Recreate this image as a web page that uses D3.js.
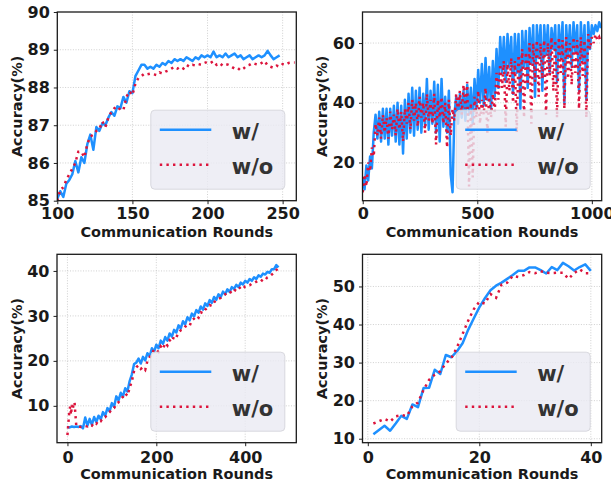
<!DOCTYPE html>
<html><head><meta charset="utf-8">
<script src="https://cdn.jsdelivr.net/npm/d3@7"></script>
<style>body{margin:0;background:#fff}svg{display:block}</style>
</head><body>
<svg id="chart" width="611" height="483"></svg>
<script>
// ---------- Panel 1 (top-left) ----------
const p1BlueX = d3.range(100, 250, 2);
const p1Blue = [85.05,85.25,85.1,85.45,85.55,85.7,86.05,85.75,86.15,86.0,86.5,86.75,86.35,86.95,86.85,87.05,87.0,87.2,87.35,87.25,87.5,87.45,87.75,87.6,87.9,87.85,88.3,88.45,88.6,88.6,88.5,88.55,88.5,88.6,88.55,88.65,88.6,88.7,88.65,88.75,88.7,88.75,88.7,88.8,88.75,88.7,88.8,88.75,88.85,88.8,88.85,88.8,88.95,88.8,88.85,88.8,88.9,88.8,88.85,88.9,88.8,88.85,88.75,88.8,88.85,88.75,88.8,88.85,88.8,88.85,88.97,88.85,88.75,88.8,88.85];
const p1RedX = d3.range(100, 260, 2);
const p1Red = [85.0,85.3,85.35,85.55,85.7,85.85,86.0,86.3,86.3,86.15,86.5,86.7,86.75,86.85,86.9,87.1,86.95,87.2,87.35,87.45,87.5,87.4,87.4,87.75,87.9,87.8,88.1,88.25,88.3,88.37,88.35,88.37,88.35,88.33,88.4,88.37,88.42,88.45,88.5,88.55,88.5,88.55,88.5,88.6,88.55,88.6,88.58,88.62,88.6,88.65,88.68,88.65,88.7,88.6,88.65,88.58,88.62,88.6,88.55,88.5,88.52,88.45,88.5,88.58,88.6,88.65,88.62,88.6,88.65,88.7,88.58,88.55,88.52,88.58,88.55,88.62,88.6,88.65,88.66,88.66];
const p1XTicks = [100,150,200,250];
const p1YTicks = [85,86,87,88,89,90];

// ---------- Panel 2 (top-right) ----------
const p2X = d3.range(0, 1041, 8);
const p2Blue = [15,11,19,14,22,18,30,36,28,37,27,38,28,38,26,38,29,39,27,40,26,39,23,41,28,43,30,45,29,44,31,45,30,43,32,48,31,44,33,47,30,46,27,48,32,42,30,44,16,10,36,42,33,43,35,44,34,46,36,45,33,48,38,51,40,53,39,55,41,52,38,54,42,58,45,62,50,62,47,63,52,62,43,63,50,63,38,64,52,64,45,65,53,66,42,66,55,66,44,66,56,66,50,65,58,66,47,66,55,67,40,66,55,66,52,67,57,66,44,67,54,66,41,67,58,66,63,66,64,67,65];
const p2Red = [10,16,12,20,17,25,22,33,29,35,28,36,30,35,28,37,31,36,29,38,31,37,27,38,33,40,31,41,34,40,32,42,35,40,30,43,34,41,33,43,26,41,35,42,33,40,25,41,29,38,34,43,37,44,36,46,38,47,12,40,15,42,35,44,33,41,36,45,30,42,35,43,37,50,41,53,45,54,32,53,44,55,40,54,30,56,43,58,35,57,46,60,33,60,47,61,42,60,48,61,36,60,49,62,44,61,35,62,50,61,38,62,48,60,46,62,50,61,38,62,49,61,35,63,58,62,60,63,61,62,60];
const p2XTicks = [0,500,1000];
const p2YTicks = [20,40,60];

// ---------- Panel 3 (bottom-left) ----------
const p3BlueX = d3.range(0, 476, 5);
const p3Blue = [5.3,5.2,5.4,5.3,5.4,5.3,5.5,5.0,7.4,5.6,7.1,5.8,7.5,6.4,7.8,7.0,8.6,7.8,9.5,8.8,10.6,9.8,12.1,11.2,12.9,12.1,13.9,13.2,15.5,17.0,19.3,19.6,20.5,19.4,20.9,20.1,21.7,21.0,22.8,22.0,23.6,22.8,24.5,23.8,25.3,24.5,26.1,25.4,26.9,26.3,27.9,27.2,28.8,28.1,29.7,29.0,30.5,29.9,31.3,30.7,32.1,31.4,32.8,32.2,33.5,32.9,34.2,33.6,34.8,34.2,35.4,34.8,35.9,35.3,36.4,36.0,36.9,36.4,37.4,37.0,37.8,37.4,38.2,37.8,38.6,38.2,39.0,38.7,39.4,39.2,39.8,39.6,40.4,40.4,41.3,40.8];
const p3RedX = [0,2,4,6,8,10,12,14,16,18].concat(d3.range(20, 476, 5));
const p3Red = [3.5,6,8.5,9.8,8.0,10.2,9.2,10.6,10.8,8,5.4,5.4,5.3,5.4,5.5,5.4,5.8,5.6,6.3,6.0,6.8,6.6,7.4,7.5,8.2,8.6,9.3,9.5,10.5,10.8,11.6,12.0,12.8,12.2,14.0,15.5,17.8,18.6,19.0,18.2,18.6,18.0,20.0,20.8,21.5,22.6,22.4,22.0,23.2,22.6,24.0,23.4,24.6,24.2,25.5,25.2,26.4,26.8,27.0,27.6,28.0,27.8,29.0,29.4,30.0,29.6,30.8,30.6,31.4,31.8,32.4,32.2,33.0,33.5,33.8,34.0,34.4,34.8,35.2,35.0,35.6,35.3,36.2,36.0,36.4,36.0,36.6,36.8,36.8,37.2,37.3,37.6,37.8,37.6,38.2,38.0,38.6,38.8,39.2,39.6,40.2,40.6];
const p3XTicks = [0,200,400];
const p3YTicks = [10,20,30,40];

// ---------- Panel 4 (bottom-right) ----------
const p4X = d3.range(1, 41);
const p4Blue = [11.2,12.3,13.4,12.1,14.0,16.0,15.2,19.0,18.3,23.3,23.4,28.1,27.0,32.0,31.4,33.0,35.1,38.6,41.6,44.5,46.9,49.0,50.2,51.0,52.0,53.0,54.1,54.1,55.0,55.0,54.3,53.4,55.1,54.3,56.2,55.3,54.2,55.1,55.8,54.1];
const p4Red = [14.0,14.6,15.2,14.5,15.9,16.2,16.0,18.5,19.5,22.8,25.5,26.8,27.7,29.8,31.2,34.0,37.5,41.0,44.0,46.0,45.5,48.0,47.0,50.5,51.0,52.8,52.5,53.0,53.8,53.5,54.0,53.6,53.5,53.6,53.6,52.0,53.5,54.5,53.5,53.5];
const p4XTicks = [0,20,40];
const p4YTicks = [10,20,30,40,50];

const seriesNames = ["w/", "w/o"];
const BLUE = "#1E90FF", RED = "#DC143C";
const FONT = "'DejaVu Sans', sans-serif";

const svg = d3.select("#chart");

function panel(id, box, xDom, yDom, xTicks, yTicks, blue, red, ylabX, xPad) {
  const x = d3.scaleLinear().domain(xDom).range([box.l, box.r]);
  const y = d3.scaleLinear().domain(yDom).range([box.b, box.t]);
  const g = svg.append("g");
  g.append("rect").attr("x", box.l).attr("y", box.t).attr("width", box.r - box.l).attr("height", box.b - box.t).attr("fill", "#fff");
  // grid
  g.selectAll(".gx").data(xTicks.filter(v => x(v) > box.l + 0.5 && x(v) < box.r - 0.5)).join("line")
    .attr("x1", d => x(d)).attr("x2", d => x(d)).attr("y1", box.t).attr("y2", box.b)
    .attr("stroke", "#c4c4c4").attr("stroke-width", 0.8).attr("stroke-dasharray", "1,1.6");
  g.selectAll(".gy").data(yTicks.filter(v => y(v) > box.t + 0.5 && y(v) < box.b - 0.5)).join("line")
    .attr("x1", box.l).attr("x2", box.r).attr("y1", d => y(d)).attr("y2", d => y(d))
    .attr("stroke", "#c4c4c4").attr("stroke-width", 0.8).attr("stroke-dasharray", "1,1.6");
  // clip
  svg.append("clipPath").attr("id", "clip" + id).append("rect")
    .attr("x", box.l).attr("y", box.t).attr("width", box.r - box.l).attr("height", box.b - box.t);
  const line = d3.line().x(d => x(d[0])).y(d => y(d[1]));
  const data = g.append("g").attr("clip-path", `url(#clip${id})`);
  data.append("path").datum(d3.zip(blue[0], blue[1])).attr("d", line)
    .attr("fill", "none").attr("stroke", BLUE).attr("stroke-width", 2.5).attr("stroke-linejoin", "round");
  data.append("path").datum(d3.zip(red[0], red[1])).attr("d", line)
    .attr("fill", "none").attr("stroke", RED).attr("stroke-width", 2.5).attr("stroke-dasharray", "2.4,4.2");
  // axes
  const ax = g.append("g").attr("transform", `translate(0,${box.b})`)
    .call(d3.axisBottom(x).tickValues(xTicks).tickSize(3.5).tickPadding(xPad).tickFormat(d3.format("d")));
  const ay = g.append("g").attr("transform", `translate(${box.l},0)`)
    .call(d3.axisLeft(y).tickValues(yTicks).tickSize(3.5).tickPadding(4).tickFormat(d3.format("d")));
  [ax, ay].forEach(a => {
    a.select(".domain").remove();
    a.selectAll("line").attr("stroke", "#222").attr("stroke-width", 1);
    a.selectAll("text").attr("fill", "#1a1a1a").style("font-family", FONT).style("font-weight", "bold").style("font-size", "16px");
  });
  // spines
  g.append("rect").attr("x", box.l).attr("y", box.t).attr("width", box.r - box.l).attr("height", box.b - box.t)
    .attr("fill", "none").attr("stroke", "#1a1a1a").attr("stroke-width", 1.3);
  // labels
  g.append("text").attr("x", (box.l + box.r) / 2).attr("y", box.b + 36.5).attr("text-anchor", "middle")
    .style("font-family", FONT).style("font-weight", "bold").style("font-size", "14.5px").attr("fill", "#1a1a1a")
    .text("Communication Rounds");
  g.append("text").attr("transform", `translate(${ylabX},${(box.t + box.b) / 2}) rotate(-90)`).attr("text-anchor", "middle")
    .style("font-family", FONT).style("font-weight", "bold").style("font-size", "14.5px").attr("fill", "#1a1a1a")
    .text("Accuracy(%)");
  // legend
  const lw = 134, lh = 79;
  const lx = box.r - 12 - lw, ly = box.b - 12 - lh;
  const lg = g.append("g").attr("transform", `translate(${lx},${ly})`);
  lg.append("rect").attr("x", 0.5).attr("y", 0.5).attr("width", lw).attr("height", lh).attr("rx", 4)
    .attr("fill", "#eaeaf2").attr("fill-opacity", 0.8).attr("stroke", "#d8d8de").attr("stroke-width", 1);
  const rows = [{c: BLUE, dash: null, t: seriesNames[0], y: 20}, {c: RED, dash: "2.4,4.2", t: seriesNames[1], y: 55}];
  rows.forEach(r => {
    lg.append("line").attr("x1", 9.5).attr("x2", 61).attr("y1", r.y).attr("y2", r.y)
      .attr("stroke", r.c).attr("stroke-width", 2.5).attr("stroke-dasharray", r.dash);
    lg.append("text").attr("x", 81.5).attr("y", r.y + 9.5).text(r.t)
      .style("font-family", FONT).style("font-weight", "bold").style("font-size", "21px").attr("fill", "#333");
  });
}

panel(1, {l: 57.3, r: 296.3, t: 12, b: 200.7}, [100, 259.1], [85, 90], p1XTicks, p1YTicks, [p1BlueX, p1Blue], [p1RedX, p1Red], 21.5, 3);
panel(2, {l: 362.5, r: 601.7, t: 12, b: 200.7}, [-1, 1043], [7.2, 70.4], p2XTicks, p2YTicks, [p2X, p2Blue], [p2X, p2Red], 327, 3);
panel(3, {l: 57, r: 296.3, t: 254.3, b: 442.7}, [-23.5, 515], [1.8, 43.7], p3XTicks, p3YTicks, [p3BlueX, p3Blue], [p3RedX, p3Red], 21.5, 5);
panel(4, {l: 362.5, r: 601.7, t: 254.3, b: 442.7}, [-0.95, 41.95], [8.95, 58.45], p4XTicks, p4YTicks, [p4X, p4Blue], [p4X, p4Red], 327, 5);
</script>
</body></html>
